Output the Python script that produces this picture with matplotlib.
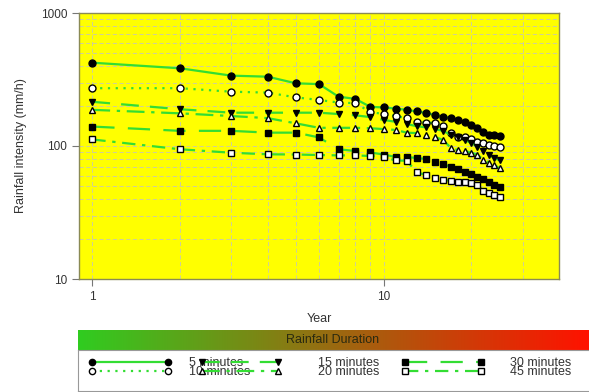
import numpy as np
import matplotlib
matplotlib.use("Agg")
import matplotlib.pyplot as plt
from matplotlib.colors import LinearSegmentedColormap
from matplotlib.ticker import FixedLocator, NullFormatter

plt.rcParams['font.family'] = ['Liberation Sans', 'DejaVu Sans']

# anni e intensita' di pioggia (mm/h) per durata
years = [1, 2, 3, 4, 5, 6, 7, 8, 9, 10, 11, 12, 13, 14, 15, 16, 17, 18, 19, 20, 21, 22, 23, 24, 25]
i5 = [423, 384, 338, 332, 296, 292, 235, 226, 197, 195, 191, 187, 182, 177, 171, 166, 162, 157, 151, 144, 136, 127, 121, 120, 119]
i10 = [272, 272, 256, 252, 232, 222, 212, 210, 180, 174, 168, 162, 152, 150, 149, 141, 125, 117, 117, 112, 108, 105, 102, 100, 99]
i15 = [215, 189, 178, 178, 178, 178, 174, 170, 165, 157, 152, 146, 141, 138, 134, 130, 121, 117, 111, 105, 99, 91, 86, 81, 78]
i20 = [187, 176, 168, 162, 148, 137, 137, 137, 136, 134, 132, 126, 125, 121, 117, 111, 97, 93, 92, 89, 86, 79, 75, 72, 68]
i30 = [140, 130, 130, 126, 126, 116, 94.5, 91.7, 89.4, 86.3, 82.7, 82.7, 81.2, 79.8, 76.2, 73.2, 69.9, 66.8, 64.1, 61.1, 58.2, 56.2, 53.9, 50.9, 48.8]
i45 = [112, 94.5, 89, 86.6, 86.3, 85.5, 85, 85, 84.1, 82.7, 77.8, 77.5, 63.4, 60.5, 57.2, 55.5, 54.8, 53.9, 53.4, 52.4, 50.9, 45.9, 44.1, 42.8, 41.6]
labels = ['5 minutes', '10 minutes', '15 minutes', '20 minutes', '30 minutes', '45 minutes']

W, H = 589, 392
fig = plt.figure(figsize=(W / 100, H / 100), dpi=100)
ax = fig.add_axes([79 / W, 1 - 279 / H, 480 / W, 266 / H])
ax.set_facecolor('#ffff00')

green = '#33dd33'
ms = 5
l5, = ax.plot(years, i5, color=green, lw=1.6, ls='-', marker='o', ms=ms,
              mfc='black', mec='black')
l10, = ax.plot(years, i10, color=green, lw=1.6, ls=(0, (1, 2.5)), marker='o', ms=ms,
               mfc='white', mec='black')
l15, = ax.plot(years, i15, color=green, lw=1.6, ls=(0, (8, 5)), marker='v', ms=ms,
               mfc='black', mec='black')
l20, = ax.plot(years, i20, color=green, lw=1.6, ls=(0, (8, 3, 1.5, 3)), marker='^', ms=ms,
               mfc='white', mec='black')
l30, = ax.plot(years, i30, color=green, lw=1.6, ls=(0, (10, 6)), marker='s', ms=ms,
               mfc='black', mec='black')
l45, = ax.plot(years, i45, color=green, lw=1.6, ls=(0, (6, 3, 1.5, 3)), marker='s', ms=ms,
               mfc='white', mec='black')

ax.set_xscale('log')
ax.set_yscale('log')
ax.set_xlim(0.9, 40)
ax.set_ylim(10, 1000)
ax.xaxis.set_major_locator(FixedLocator([1, 10]))
ax.yaxis.set_major_locator(FixedLocator([10, 100, 1000]))
ax.set_xticklabels(['1', '10'])
ax.set_yticklabels(['10', '100', '1000'])
ax.xaxis.set_minor_formatter(NullFormatter())
ax.yaxis.set_minor_formatter(NullFormatter())
ax.tick_params(which='major', length=5, width=0.8, color='#777777',
               labelsize=8.5, labelcolor='#333333')
ax.tick_params(which='minor', length=0)
ax.grid(True, which='both', color='#c8c8b0', ls=(0, (5, 3)), lw=0.6)
for s in ax.spines.values():
    s.set_color('#8a8a55')
    s.set_linewidth(1.0)

ax.set_xlabel('Year', fontsize=9, color='#333333', labelpad=7)
ax.set_ylabel('Rainfall intensity (mm/h)', fontsize=9, color='#333333', labelpad=10)

# barra colorata "Rainfall Duration"
cmap = LinearSegmentedColormap.from_list('dur', ['#30cc20', '#9a6a10', '#ff1200'])
ax_bar = fig.add_axes([78 / W, 1 - 350 / H, 1 - 78 / W, 20 / H])
ax_bar.imshow(np.linspace(0, 1, 256)[None, :], aspect='auto', cmap=cmap,
              extent=[0, 1, 0, 1])
ax_bar.set_axis_off()
ax_bar.text((333 - 78) / (W - 78), 0.5, 'Rainfall Duration', ha='center', va='center',
            fontsize=9, color='#2a2a10')

# riquadro legenda
ax_box = fig.add_axes([78 / W, 1 - 391 / H, 1 - 78 / W + 0.01, 41 / H])
ax_box.set_xticks([])
ax_box.set_yticks([])
ax_box.set_facecolor('white')
for s in ax_box.spines.values():
    s.set_color('#999999')

yc = 1 - 367.75 / H
cols = [([l5, l10], labels[0:2], 88, 1.38),
        ([l15, l20], labels[2:4], 198, 2.9),
        ([l30, l45], labels[4:6], 401, 2.0)]
for hs, lb, x0, pad in cols:
    fig.legend(hs, lb, loc='center left', bbox_to_anchor=(x0 / W, yc),
               frameon=False, borderpad=0, borderaxespad=0, numpoints=2,
               handlelength=6.7, handletextpad=pad, labelspacing=-0.22,
               fontsize=9, labelcolor='#333333', markerscale=0.9)

fig.savefig('out.png', dpi=100)
